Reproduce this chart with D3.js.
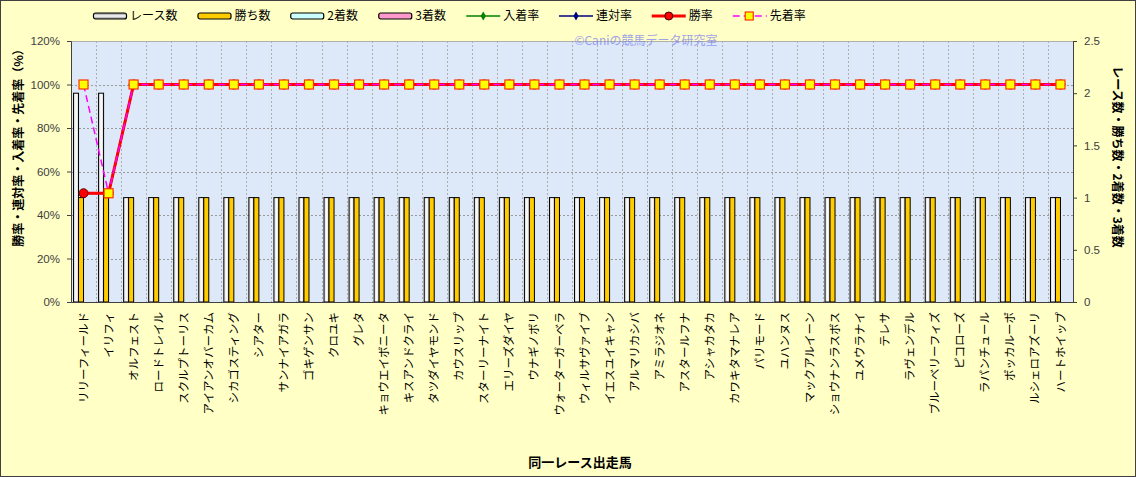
<!DOCTYPE html>
<html>
<head>
<meta charset="utf-8">
<script src="https://cdn.jsdelivr.net/npm/d3@7"></script>
<style>
  body { margin: 0; background: #fff; }
  text { font-family: "Noto Sans CJK JP", "Noto Sans", sans-serif; }
</style>
</head>
<body>
<div class="canvas"></div>
<script>
// data
const horses = ["リリーフィールド", "イリフィ", "オルフェスト", "ロードトレイル", "スクルプトーリス",
  "アイアンオバーカム", "シカゴスティング", "シアター", "サンナイアガラ", "ゴキゲンサン",
  "クロユキ", "グレタ", "キョウエイボニータ", "キスアンドクライ", "タツダイヤモンド",
  "カウスリップ", "スターリーナイト", "エリーズダイヤ", "ウナギノボリ", "ウォーターガーベラ",
  "ウィルサヴァイブ", "イエスユイキャン", "アルマリカシバ", "アミラジオネ", "アスタールフナ",
  "アシャカタカ", "カワキタマナレア", "パリモード", "ユハンヌス", "マックアルイーン",
  "ショウナンラスボス", "ユメウラナイ", "テレサ", "ラヴェンデル", "ブルーベリーフィズ",
  "ピコローズ", "ラパンチュール", "ポッカルーポ", "ルシェロアズーリ", "ハートホイップ"];

const races  = [2, 2, 1, 1, 1, 1, 1, 1, 1, 1, 1, 1, 1, 1, 1, 1, 1, 1, 1, 1,
                1, 1, 1, 1, 1, 1, 1, 1, 1, 1, 1, 1, 1, 1, 1, 1, 1, 1, 1, 1];
const wins   = [1, 1, 1, 1, 1, 1, 1, 1, 1, 1, 1, 1, 1, 1, 1, 1, 1, 1, 1, 1,
                1, 1, 1, 1, 1, 1, 1, 1, 1, 1, 1, 1, 1, 1, 1, 1, 1, 1, 1, 1];
const second = [0, 0, 0, 0, 0, 0, 0, 0, 0, 0, 0, 0, 0, 0, 0, 0, 0, 0, 0, 0,
                0, 0, 0, 0, 0, 0, 0, 0, 0, 0, 0, 0, 0, 0, 0, 0, 0, 0, 0, 0];
const third  = [0, 0, 0, 0, 0, 0, 0, 0, 0, 0, 0, 0, 0, 0, 0, 0, 0, 0, 0, 0,
                0, 0, 0, 0, 0, 0, 0, 0, 0, 0, 0, 0, 0, 0, 0, 0, 0, 0, 0, 0];
const placeRate  = [50, 50, 100, 100, 100, 100, 100, 100, 100, 100, 100, 100, 100, 100, 100, 100, 100, 100, 100, 100,
                    100, 100, 100, 100, 100, 100, 100, 100, 100, 100, 100, 100, 100, 100, 100, 100, 100, 100, 100, 100];
const rentaiRate = [50, 50, 100, 100, 100, 100, 100, 100, 100, 100, 100, 100, 100, 100, 100, 100, 100, 100, 100, 100,
                    100, 100, 100, 100, 100, 100, 100, 100, 100, 100, 100, 100, 100, 100, 100, 100, 100, 100, 100, 100];
const winRate    = [50, 50, 100, 100, 100, 100, 100, 100, 100, 100, 100, 100, 100, 100, 100, 100, 100, 100, 100, 100,
                    100, 100, 100, 100, 100, 100, 100, 100, 100, 100, 100, 100, 100, 100, 100, 100, 100, 100, 100, 100];
const senRate    = [100, 50, 100, 100, 100, 100, 100, 100, 100, 100, 100, 100, 100, 100, 100, 100, 100, 100, 100, 100,
                    100, 100, 100, 100, 100, 100, 100, 100, 100, 100, 100, 100, 100, 100, 100, 100, 100, 100, 100, 100];

const leftTicks = [0, 20, 40, 60, 80, 100, 120];
const rightTicks = [0, 0.5, 1, 1.5, 2, 2.5];

const W = 1136, H = 477;
const plot = {left: 71, right: 1073, top: 41, bottom: 302};

const svg = d3.select(".canvas").append("svg")
  .attr("width", W).attr("height", H);

const defs = svg.append("defs");
const grad = defs.append("linearGradient").attr("id", "raceGrad")
  .attr("x1", "0%").attr("x2", "100%").attr("y1", "0%").attr("y2", "0%");
grad.append("stop").attr("offset", "0%").attr("stop-color", "#d0d0d0");
grad.append("stop").attr("offset", "50%").attr("stop-color", "#ffffff");
grad.append("stop").attr("offset", "100%").attr("stop-color", "#d0d0d0");
const lgrad = defs.append("linearGradient").attr("id", "raceGradLeg")
  .attr("x1", "0%").attr("x2", "0%").attr("y1", "0%").attr("y2", "100%");
lgrad.append("stop").attr("offset", "0%").attr("stop-color", "#808080");
lgrad.append("stop").attr("offset", "50%").attr("stop-color", "#ffffff");
lgrad.append("stop").attr("offset", "100%").attr("stop-color", "#808080");

// outer background
svg.append("rect").attr("x", 0.5).attr("y", 0.5).attr("width", W - 1).attr("height", H - 1)
  .attr("fill", "#ffffc6").attr("stroke", "#404040");

// plot area
svg.append("rect")
  .attr("x", plot.left).attr("y", plot.top)
  .attr("width", plot.right - plot.left).attr("height", plot.bottom - plot.top)
  .attr("fill", "#dde9f8");

const x = d3.scaleBand().domain(horses).range([plot.left, plot.right]);
const sub = d3.scaleBand().domain(["races", "wins", "second", "third"])
  .range([-10, 10]);
const yL = d3.scaleLinear().domain([0, 120]).range([plot.bottom, plot.top]);
const yR = d3.scaleLinear().domain([0, 2.5]).range([plot.bottom, plot.top]);

// grid
const grid = svg.append("g");
grid.selectAll(".hg").data(leftTicks.slice(1, -1)).enter().append("line")
  .attr("x1", plot.left).attr("x2", plot.right)
  .attr("y1", d => Math.round(yL(d)) + 0.5).attr("y2", d => Math.round(yL(d)) + 0.5)
  .attr("stroke", "#9a9a9a").attr("stroke-dasharray", "2,2");
grid.selectAll(".vg").data(horses.slice(1)).enter().append("line")
  .attr("x1", d => Math.round(x(d)) + 0.5).attr("x2", d => Math.round(x(d)) + 0.5)
  .attr("y1", plot.top).attr("y2", plot.bottom)
  .attr("stroke", "#b0b0b0").attr("stroke-dasharray", "2,2");

svg.append("rect")
  .attr("x", plot.left + 0.5).attr("y", plot.top + 0.5)
  .attr("width", plot.right - plot.left).attr("height", plot.bottom - plot.top)
  .attr("fill", "none").attr("stroke", "#b0b0b0");

// bars
const barSeries = [
  {key: "races", values: races, fill: "url(#raceGrad)"},
  {key: "wins", values: wins, fill: "#ffcc00"},
  {key: "second", values: second, fill: "#ccffff"},
  {key: "third", values: third, fill: "#ff99cc"}
];
const bars = svg.append("g");
barSeries.forEach(s => {
  bars.selectAll(".b-" + s.key)
    .data(horses.map((h, i) => ({h: h, v: s.values[i]})).filter(d => d.v > 0))
    .enter().append("rect")
    .attr("x", d => x(d.h) + x.bandwidth() / 2 + sub(s.key))
    .attr("width", sub.bandwidth())
    .attr("y", d => yR(d.v))
    .attr("height", d => yR(0) - yR(d.v))
    .attr("fill", s.fill)
    .attr("stroke", "#000").attr("stroke-width", 1);
});

// lines
const cx = h => x(h) + x.bandwidth() / 2;
const lineSeries = [
  {key: "place", values: placeRate, color: "#008000", width: 1.5, dash: null},
  {key: "rentai", values: rentaiRate, color: "#000080", width: 2, dash: null},
  {key: "win", values: winRate, color: "#ff0000", width: 3, dash: null},
  {key: "sen", values: senRate, color: "#ff00ff", width: 1.5, dash: "7,4"}
];
const line = d3.line().x(d => cx(d.h)).y(d => yL(d.v));
const lines = svg.append("g");
lineSeries.forEach(s => {
  const pts = horses.map((h, i) => ({h: h, v: s.values[i]}));
  lines.append("path").datum(pts)
    .attr("d", line).attr("fill", "none")
    .attr("stroke", s.color).attr("stroke-width", s.width)
    .attr("stroke-dasharray", s.dash);
});
lineSeries.forEach(s => {
  const pts = horses.map((h, i) => ({h: h, v: s.values[i]}));
  const g = lines.append("g");
  if (s.key === "place" || s.key === "rentai") {
    g.selectAll("path").data(pts).enter().append("path")
      .attr("d", d3.symbol(d3.symbolDiamond, 20))
      .attr("transform", d => `translate(${cx(d.h)},${yL(d.v)})`)
      .attr("fill", s.color);
  } else if (s.key === "win") {
    g.selectAll("circle").data(pts).enter().append("circle")
      .attr("cx", d => cx(d.h)).attr("cy", d => yL(d.v)).attr("r", 4.5)
      .attr("fill", "#ff0000").attr("stroke", "#600000").attr("stroke-width", 1);
  } else {
    g.selectAll("rect").data(pts).enter().append("rect")
      .attr("x", d => cx(d.h) - 4.5).attr("y", d => yL(d.v) - 4.5)
      .attr("width", 9).attr("height", 9)
      .attr("fill", "#ffff00").attr("stroke", "#ff3300").attr("stroke-width", 1.2);
  }
});

// axes
const axisL = svg.append("g").attr("transform", `translate(${plot.left},0)`)
  .call(d3.axisLeft(yL).tickValues(leftTicks).tickFormat(d => d + "%").tickSize(4).tickPadding(7));
const axisR = svg.append("g").attr("transform", `translate(${plot.right},0)`)
  .call(d3.axisRight(yR).tickValues(rightTicks).tickFormat(d3.format("")).tickSize(4).tickPadding(7));
[axisL, axisR].forEach(a => {
  a.select(".domain").attr("stroke", "#404040");
  a.selectAll(".tick line").attr("stroke", "#404040");
  a.selectAll("text").attr("fill", "#404040").style("font-size", "11.5px")
    .style("font-family", '"Liberation Sans", Arial, sans-serif');
});

const axisB = svg.append("g").attr("transform", `translate(0,${plot.bottom})`)
  .call(d3.axisBottom(x).tickSize(0).tickPadding(0));
axisB.select(".domain").attr("stroke", "#404040");
axisB.selectAll("text")
  .attr("transform", "rotate(-90)")
  .attr("text-anchor", "end")
  .attr("x", -10).attr("y", 0).attr("dy", "0.35em")
  .attr("fill", "#000").style("font-size", "11.5px");

// axis titles
svg.append("text")
  .attr("transform", "translate(23,145) rotate(-90)")
  .attr("text-anchor", "middle").attr("font-weight", "bold")
  .style("font-size", "12px").text("勝率・連対率・入着率・先着率（%）");
svg.append("text")
  .attr("transform", "translate(1113,157) rotate(90)")
  .attr("text-anchor", "middle").attr("font-weight", "bold")
  .style("font-size", "12px").text("レース数・勝ち数・2着数・3着数");
svg.append("text")
  .attr("x", 580).attr("y", 467).attr("text-anchor", "middle").attr("font-weight", "bold")
  .style("font-size", "13px").text("同一レース出走馬");

// watermark
svg.append("text")
  .attr("x", 646).attr("y", 45).attr("text-anchor", "middle")
  .attr("fill", "#7f86f0").attr("opacity", 0.75)
  .style("font-size", "12px").text("©Caniの競馬データ研究室");

// legend
const legendItems = [
  {label: "レース数", type: "bar", fill: "url(#raceGradLeg)"},
  {label: "勝ち数", type: "bar", fill: "#ffcc00"},
  {label: "2着数", type: "bar", fill: "#ccffff"},
  {label: "3着数", type: "bar", fill: "#ff99cc"},
  {label: "入着率", type: "diamond", color: "#008000"},
  {label: "連対率", type: "diamond", color: "#000080"},
  {label: "勝率", type: "circle", color: "#ff0000"},
  {label: "先着率", type: "square", color: "#ff00ff"}
];
// rough width estimate: full-width chars ~11.75px, ascii 7px
const textW = s => Array.from(s).reduce((a, c) => a + (c.charCodeAt(0) < 256 ? 7 : 11.75), 0);
const legend = svg.append("g");
let lx = 93;
const ly = 16;
legendItems.forEach(it => {
  const g = legend.append("g").attr("transform", `translate(${lx},0)`);
  if (it.type === "bar") {
    g.append("rect").attr("x", 0.5).attr("y", ly - 3).attr("width", 33).attr("height", 6)
      .attr("rx", 2).attr("fill", it.fill).attr("stroke", "#000").attr("stroke-width", 1.2);
  } else if (it.type === "square") {
    g.append("line").attr("x1", 0).attr("x2", 34).attr("y1", ly).attr("y2", ly)
      .attr("stroke", it.color).attr("stroke-width", 1.5).attr("stroke-dasharray", "7,4");
    g.append("rect").attr("x", 12.5).attr("y", ly - 4).attr("width", 8).attr("height", 8)
      .attr("fill", "#ffff00").attr("stroke", "#ff3300").attr("stroke-width", 1.2);
  } else {
    g.append("line").attr("x1", 0).attr("x2", 34).attr("y1", ly).attr("y2", ly)
      .attr("stroke", it.color).attr("stroke-width", it.type === "circle" ? 3 : 1.5);
    if (it.type === "circle") {
      g.append("circle").attr("cx", 17).attr("cy", ly).attr("r", 4)
        .attr("fill", "#ff0000").attr("stroke", "#400000");
    } else {
      g.append("path").attr("d", d3.symbol(d3.symbolDiamond, 24))
        .attr("transform", `translate(17,${ly})`).attr("fill", it.color);
    }
  }
  g.append("text").attr("x", 37).attr("y", ly).attr("dy", "0.36em")
    .style("font-size", "12px").attr("fill", "#000").text(it.label);
  lx += 37 + textW(it.label) + 20.5;
});
</script>
</body>
</html>
